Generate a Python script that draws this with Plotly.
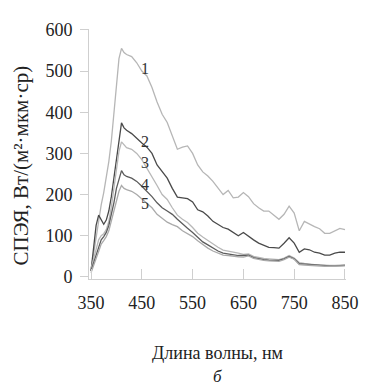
import plotly.graph_objects as go

wavelength = [350, 355, 360, 365, 370, 375, 380, 385, 390, 395, 400, 405, 410, 415, 420,
              430, 440, 450, 460, 470, 480, 490, 500, 510, 520, 530, 540, 550, 560, 570,
              580, 590, 600, 610, 620, 630, 640, 650, 660, 670, 680, 690, 700, 710, 720,
              730, 740, 750, 760, 770, 780, 790, 800, 810, 820, 830, 840, 850]

series_1 = [15, 55, 100, 140, 175, 205, 240, 280, 330, 400, 470, 530, 555, 545, 540,
            535, 520, 500, 488, 460, 425, 395, 375, 340, 310, 315, 318, 300, 272, 255,
            245, 232, 215, 200, 210, 192, 194, 205, 195, 178, 168, 160, 160, 150, 140,
            152, 172, 155, 112, 135, 128, 122, 117, 106, 106, 112, 118, 115]

series_2 = [15, 70, 125, 150, 138, 128, 138, 160, 195, 240, 290, 340, 374, 362, 356,
            348, 336, 325, 315, 300, 272, 255, 240, 215, 194, 192, 190, 182, 163, 158,
            148, 135, 128, 120, 116, 108, 100, 108, 98, 90, 82, 76, 72, 71, 70,
            82, 95, 82, 60, 68, 66, 60, 58, 53, 53, 58, 60, 60]

series_3 = [20, 45, 70, 90, 100, 105, 115, 135, 170, 215, 265, 305, 328, 320, 314,
            310, 300, 285, 265, 245, 222, 200, 188, 168, 150, 140, 132, 120, 106, 97,
            88, 80, 72, 65, 63, 60, 58, 55, 56, 50, 47, 45, 44, 43, 42,
            46, 52, 46, 35, 33, 31, 30, 29, 28, 28, 28, 29, 29]

series_4 = [15, 35, 55, 75, 90, 98, 108, 125, 150, 180, 215, 240, 258, 248, 244,
            240, 232, 220, 208, 195, 180, 168, 160, 152, 140, 128, 118, 108, 97, 85,
            78, 70, 63, 58, 56, 54, 52, 52, 53, 47, 44, 42, 41, 40, 40,
            44, 50, 44, 32, 31, 30, 29, 28, 27, 27, 27, 28, 28]

series_5 = [10, 30, 45, 62, 80, 88, 98, 112, 135, 160, 185, 208, 222, 215, 212,
            208, 200, 190, 180, 168, 152, 142, 133, 127, 122, 112, 105, 98, 88, 78,
            70, 63, 58, 53, 52, 50, 49, 48, 51, 45, 42, 40, 39, 38, 38,
            42, 48, 43, 30, 29, 28, 27, 27, 26, 26, 26, 27, 27]

series_names = ["1", "2", "3", "4", "5"]
series_colors = ["#b6b6b6", "#4a4a4a", "#b8b8b8", "#5c5c5c", "#aaaaaa"]
label_x = [456, 456, 456, 456, 456]
label_y = [507, 329, 277, 225, 178]

x_ticks = [350, 450, 550, 650, 750, 850]
y_ticks = [0, 100, 200, 300, 400, 500, 600]

FONT = "Liberation Serif, Times New Roman, serif"
TXT = "#222222"
AX = "#cfcfcf"

fig = go.Figure()
for name, ys, col in zip(series_names, [series_1, series_2, series_3, series_4, series_5], series_colors):
    fig.add_trace(go.Scatter(x=wavelength, y=ys, mode="lines", name=name,
                             line=dict(color=col, width=1.3), showlegend=False,
                             hoverinfo="skip"))

for name, lx, ly in zip(series_names, label_x, label_y):
    fig.add_annotation(x=lx, y=ly, text=name, showarrow=False,
                       font=dict(family=FONT, size=16, color="#333333"))

fig.update_layout(
    width=368, height=387,
    margin=dict(l=81, r=30, t=15, b=116),
    paper_bgcolor="white", plot_bgcolor="white",
    font=dict(family=FONT, size=18, color=TXT),
    xaxis=dict(range=[346, 852], tickvals=x_ticks, ticktext=[str(v) for v in x_ticks],
               showgrid=False, zeroline=False, showline=True, linecolor=AX,
               linewidth=1, ticks="inside", ticklen=10, tickcolor=AX,
               ticklabelstandoff=7,
               tickfont=dict(family=FONT, size=18, color=TXT),
               title=dict(text="Длина волны, нм", standoff=34,
                          font=dict(family=FONT, size=18, color=TXT))),
    yaxis=dict(range=[-5, 602], tickvals=y_ticks,
               showgrid=False, zeroline=False, showline=True, linecolor=AX,
               linewidth=1, ticks="outside", ticklen=8, tickcolor=AX,
               ticklabelstandoff=4,
               tickfont=dict(family=FONT, size=18, color=TXT)),
    yaxis2=dict(range=[-5, 602], tickvals=y_ticks, overlaying="y", side="left",
                showgrid=False, zeroline=False, showline=False, showticklabels=False,
                ticks="inside", ticklen=9, tickcolor=AX),
)

fig.add_annotation(x=-0.266, y=0.453, xref="paper", yref="paper",
                   text="СПЭЯ, Вт/(м²·мкм·ср)", textangle=-90, showarrow=False,
                   xanchor="center", yanchor="middle",
                   font=dict(family=FONT, size=21, color=TXT))

fig.add_annotation(x=0.5, y=-0.39, xref="paper", yref="paper", text="<i>б</i>",
                   showarrow=False, xanchor="center", yanchor="middle",
                   font=dict(family=FONT, size=17, color=TXT))

fig.write_html("out.html")
